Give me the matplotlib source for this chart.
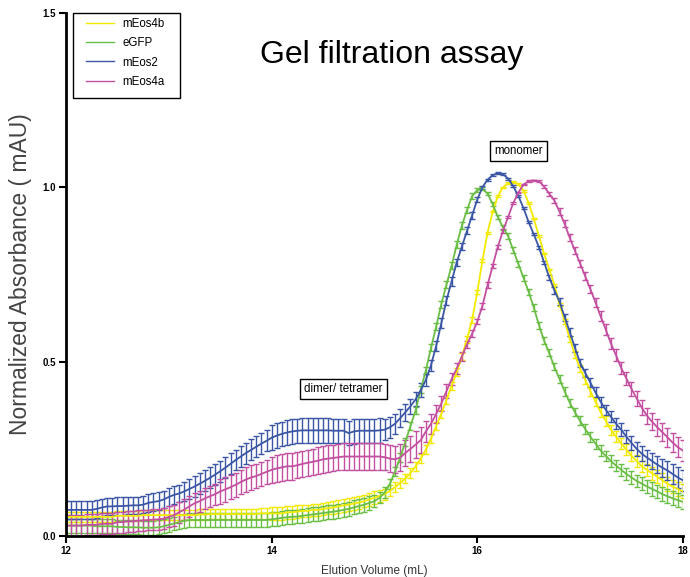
import numpy as np
import matplotlib
matplotlib.use('Agg')
import matplotlib.pyplot as plt
from matplotlib.lines import Line2D
from matplotlib.patches import Rectangle

plt.rcParams['font.family'] = ['Liberation Sans', 'DejaVu Sans']

# elution volume, 12 -> 18 mL in 0.05 mL steps
volume = [round(12 + 0.05 * i, 2) for i in range(121)]

# normalized absorbance (rows of 0.5 mL)
mEos4b = [0.055, 0.055, 0.055, 0.055, 0.055, 0.055, 0.055, 0.055, 0.055, 0.055,
          0.058, 0.058, 0.058, 0.058, 0.058, 0.060, 0.060, 0.060, 0.060, 0.060,
          0.060, 0.060, 0.060, 0.060, 0.060, 0.060, 0.062, 0.062, 0.063, 0.063,
          0.063, 0.063, 0.063, 0.063, 0.063, 0.063, 0.063, 0.063, 0.065, 0.065,
          0.065, 0.065, 0.065, 0.068, 0.068, 0.070, 0.072, 0.072, 0.075, 0.075,
          0.078, 0.080, 0.082, 0.085, 0.088, 0.090, 0.093, 0.096, 0.100, 0.105,
          0.110, 0.115, 0.120, 0.130, 0.140, 0.152, 0.165, 0.180, 0.200, 0.222,
          0.248, 0.280, 0.315, 0.350, 0.390, 0.430, 0.470, 0.515, 0.565, 0.620,
          0.700, 0.790, 0.870, 0.930, 0.975, 1.000, 1.012, 1.015, 1.010, 0.990,
          0.955, 0.910, 0.860, 0.810, 0.765, 0.720, 0.665, 0.615, 0.565, 0.520,
          0.480, 0.448, 0.415, 0.385, 0.355, 0.330, 0.305, 0.285, 0.265, 0.248,
          0.230, 0.215, 0.200, 0.190, 0.180, 0.170, 0.160, 0.150, 0.142, 0.135,
          0.128]
mEos4b_err = [0.015] * 40 + [0.018] * 20 + [
          0.018, 0.018, 0.016, 0.016, 0.015, 0.015, 0.014, 0.014, 0.013, 0.013,
          0.012, 0.012, 0.012, 0.012, 0.012, 0.012, 0.012, 0.010, 0.010, 0.008,
          0.006, 0.004, 0.003, 0.002, 0.002, 0.002, 0.002, 0.002, 0.002, 0.002,
          0.002, 0.002, 0.002, 0.002, 0.002, 0.002, 0.004, 0.006, 0.008, 0.010,
          0.010, 0.012, 0.012, 0.012, 0.014, 0.014, 0.014, 0.015, 0.015, 0.015,
          0.016, 0.016, 0.016, 0.018, 0.018, 0.018, 0.020, 0.020, 0.020, 0.020,
          0.020]

eGFP = [0.030, 0.030, 0.030, 0.030, 0.030, 0.030, 0.028, 0.028, 0.028, 0.028,
        0.026, 0.026, 0.025, 0.025, 0.025, 0.024, 0.024, 0.024, 0.025, 0.028,
        0.032, 0.036, 0.040, 0.044, 0.046, 0.046, 0.046, 0.046, 0.046, 0.046,
        0.046, 0.046, 0.046, 0.046, 0.046, 0.046, 0.046, 0.046, 0.046, 0.046,
        0.048, 0.050, 0.052, 0.054, 0.055, 0.056, 0.058, 0.060, 0.062, 0.064,
        0.066, 0.068, 0.070, 0.072, 0.075, 0.078, 0.082, 0.086, 0.090, 0.095,
        0.100, 0.110, 0.125, 0.150, 0.185, 0.225, 0.270, 0.315, 0.360, 0.420,
        0.475, 0.540, 0.600, 0.665, 0.720, 0.775, 0.835, 0.890, 0.935, 0.975,
        0.992, 0.996, 0.982, 0.952, 0.915, 0.885, 0.860, 0.820, 0.780, 0.740,
        0.700, 0.655, 0.605, 0.560, 0.525, 0.485, 0.450, 0.415, 0.382, 0.355,
        0.330, 0.307, 0.285, 0.265, 0.245, 0.230, 0.215, 0.202, 0.190, 0.178,
        0.168, 0.158, 0.150, 0.142, 0.135, 0.128, 0.120, 0.114, 0.108, 0.103,
        0.098]
eGFP_err = [0.020] * 60 + [
        0.018, 0.016, 0.015, 0.014, 0.013, 0.012, 0.012, 0.011, 0.010, 0.010,
        0.010, 0.010, 0.010, 0.010, 0.010, 0.010, 0.010, 0.010, 0.010, 0.008,
        0.005, 0.004, 0.004, 0.005, 0.006, 0.008, 0.008, 0.008, 0.008, 0.008,
        0.008, 0.010, 0.010, 0.010, 0.010, 0.010, 0.012, 0.012, 0.012, 0.012,
        0.013, 0.013, 0.014, 0.014, 0.015, 0.015, 0.016, 0.016, 0.017, 0.017,
        0.018, 0.018, 0.018, 0.019, 0.019, 0.019, 0.020, 0.020, 0.020, 0.020,
        0.020]

mEos2 = [0.075, 0.075, 0.075, 0.075, 0.075, 0.075, 0.078, 0.082, 0.085, 0.085,
         0.086, 0.086, 0.087, 0.088, 0.088, 0.090, 0.095, 0.098, 0.100, 0.105,
         0.112, 0.118, 0.122, 0.128, 0.135, 0.142, 0.150, 0.158, 0.167, 0.176,
         0.186, 0.196, 0.207, 0.218, 0.228, 0.238, 0.247, 0.256, 0.265, 0.273,
         0.282, 0.288, 0.293, 0.297, 0.300, 0.302, 0.303, 0.303, 0.303, 0.303,
         0.303, 0.303, 0.302, 0.302, 0.302, 0.295, 0.300, 0.302, 0.302, 0.302,
         0.302, 0.303, 0.305, 0.312, 0.322, 0.338, 0.355, 0.372, 0.392, 0.418,
         0.448, 0.490, 0.545, 0.610, 0.675, 0.730, 0.785, 0.830, 0.875, 0.920,
         0.965, 1.000, 1.022, 1.035, 1.040, 1.038, 1.025, 1.003, 0.975, 0.940,
         0.900, 0.865, 0.828, 0.785, 0.742, 0.705, 0.672, 0.628, 0.585, 0.540,
         0.497, 0.468, 0.440, 0.412, 0.385, 0.362, 0.342, 0.322, 0.305, 0.285,
         0.267, 0.250, 0.236, 0.225, 0.215, 0.205, 0.196, 0.188, 0.178, 0.168,
         0.160]
mEos2_err = [0.025] * 23 + [0.028, 0.028] + [0.030] * 15 + [0.035] * 20 + [
         0.035, 0.035, 0.030, 0.030, 0.028, 0.025, 0.025, 0.022, 0.020, 0.020,
         0.018, 0.016, 0.015, 0.014, 0.012, 0.012, 0.010, 0.010, 0.010, 0.010,
         0.008, 0.005, 0.003, 0.003, 0.003, 0.003, 0.003, 0.003, 0.003, 0.003,
         0.003, 0.003, 0.005, 0.005, 0.008, 0.010, 0.010, 0.010, 0.012, 0.012,
         0.012, 0.012, 0.014, 0.014, 0.015, 0.015, 0.016, 0.016, 0.018, 0.018,
         0.020, 0.020, 0.022, 0.022, 0.024, 0.025, 0.026, 0.028, 0.030, 0.030,
         0.030]

mEos4a = [0.030, 0.030, 0.030, 0.030, 0.032, 0.032, 0.032, 0.035, 0.035, 0.035,
          0.040, 0.040, 0.042, 0.042, 0.044, 0.045, 0.046, 0.047, 0.048, 0.050,
          0.055, 0.060, 0.068, 0.076, 0.085, 0.094, 0.100, 0.108, 0.114, 0.120,
          0.128, 0.134, 0.140, 0.147, 0.155, 0.162, 0.168, 0.172, 0.178, 0.184,
          0.190, 0.194, 0.197, 0.200, 0.200, 0.203, 0.207, 0.210, 0.213, 0.216,
          0.220, 0.222, 0.224, 0.226, 0.228, 0.228, 0.228, 0.228, 0.228, 0.228,
          0.228, 0.228, 0.226, 0.222, 0.220, 0.225, 0.238, 0.250, 0.262, 0.275,
          0.300, 0.322, 0.350, 0.380, 0.415, 0.450, 0.480, 0.515, 0.550, 0.580,
          0.615, 0.660, 0.720, 0.775, 0.830, 0.875, 0.915, 0.955, 0.985, 1.008,
          1.018, 1.020, 1.018, 1.002, 0.982, 0.962, 0.930, 0.895, 0.855, 0.818,
          0.782, 0.745, 0.708, 0.670, 0.630, 0.592, 0.552, 0.518, 0.482, 0.452,
          0.422, 0.395, 0.368, 0.345, 0.328, 0.312, 0.298, 0.283, 0.268, 0.255,
          0.245]
mEos4a_err = [0.030] * 30 + [0.035] * 10 + [0.038] * 30 + [
          0.030, 0.028, 0.025, 0.022, 0.020, 0.018, 0.015, 0.012, 0.010, 0.010,
          0.008, 0.008, 0.008, 0.006, 0.006, 0.005, 0.004, 0.003, 0.002, 0.002,
          0.002, 0.002, 0.002, 0.004, 0.006, 0.008, 0.010, 0.010, 0.010, 0.010,
          0.010, 0.011, 0.012, 0.013, 0.014, 0.015, 0.016, 0.017, 0.018, 0.019,
          0.020, 0.021, 0.022, 0.023, 0.024, 0.025, 0.026, 0.027, 0.028, 0.029,
          0.030]

series = [
    ('mEos4b', mEos4b, mEos4b_err, '#f2ea00'),
    ('eGFP', eGFP, eGFP_err, '#6abd45'),
    ('mEos2', mEos2, mEos2_err, '#3a56a5'),
    ('mEos4a', mEos4a, mEos4a_err, '#c24f9f'),
]

fig = plt.figure(figsize=(6.9, 5.77), dpi=100)
ax = fig.add_axes([0.0957, 0.071, 0.894, 0.9065])

handles = []
for name, y, err, color in series:
    ax.errorbar(volume, y, yerr=err, color=color, lw=1.3, elinewidth=1.0,
                capsize=2, capthick=1.0)
    handles.append(Line2D([], [], color=color, lw=1.0, label=name))

ax.set_xlim(12, 18)
ax.set_ylim(0, 1.5)
ax.set_xticks([12, 14, 16, 18])
ax.set_yticks([0.0, 0.5, 1.0, 1.5])
ax.set_yticklabels(['0.0', '0.5', '1.0', '1.5'])
ax.tick_params(axis='both', direction='out', length=5, width=1.5,
               labelsize=7, pad=2)
for lab in ax.get_xticklabels() + ax.get_yticklabels():
    lab.set_fontweight('bold')
for side in ['top', 'right']:
    ax.spines[side].set_visible(False)
for side in ['left', 'bottom']:
    ax.spines[side].set_linewidth(2)

ax.set_xlabel('Elution Volume (mL)', fontsize=8.5, color='#333333', va='top')
ax.xaxis.set_label_coords(0.5, -0.055)
ax.set_ylabel('Normalized Absorbance ( mAU)', fontsize=16.5, color='#444444',
              labelpad=8)

# legend: plain frame drawn by hand, entries placed inside it
ax.add_patch(Rectangle((0.0113, 0.8375), 0.1734, 0.1625, transform=ax.transAxes,
                       fill=False, ec='black', lw=1.0, clip_on=False, zorder=5))
ax.legend(handles=handles, loc='upper left', bbox_to_anchor=(0.033, 0.99),
          fontsize=8.3, frameon=False, handlelength=2.4, labelspacing=0.62,
          borderpad=0, handletextpad=0.7, borderaxespad=0)

box = dict(boxstyle='square,pad=0.35', fc='white', ec='black', lw=1)
ax.text(16.4, 1.103, 'monomer', fontsize=8.3, ha='center', va='center', bbox=box)
ax.text(14.7, 0.422, 'dimer/ tetramer', fontsize=8.3, ha='center', va='center',
        bbox=box)

fig.text(0.568, 0.905, 'Gel filtration assay', fontsize=23, ha='center',
         va='center')

plt.savefig('out.png', dpi=100)
